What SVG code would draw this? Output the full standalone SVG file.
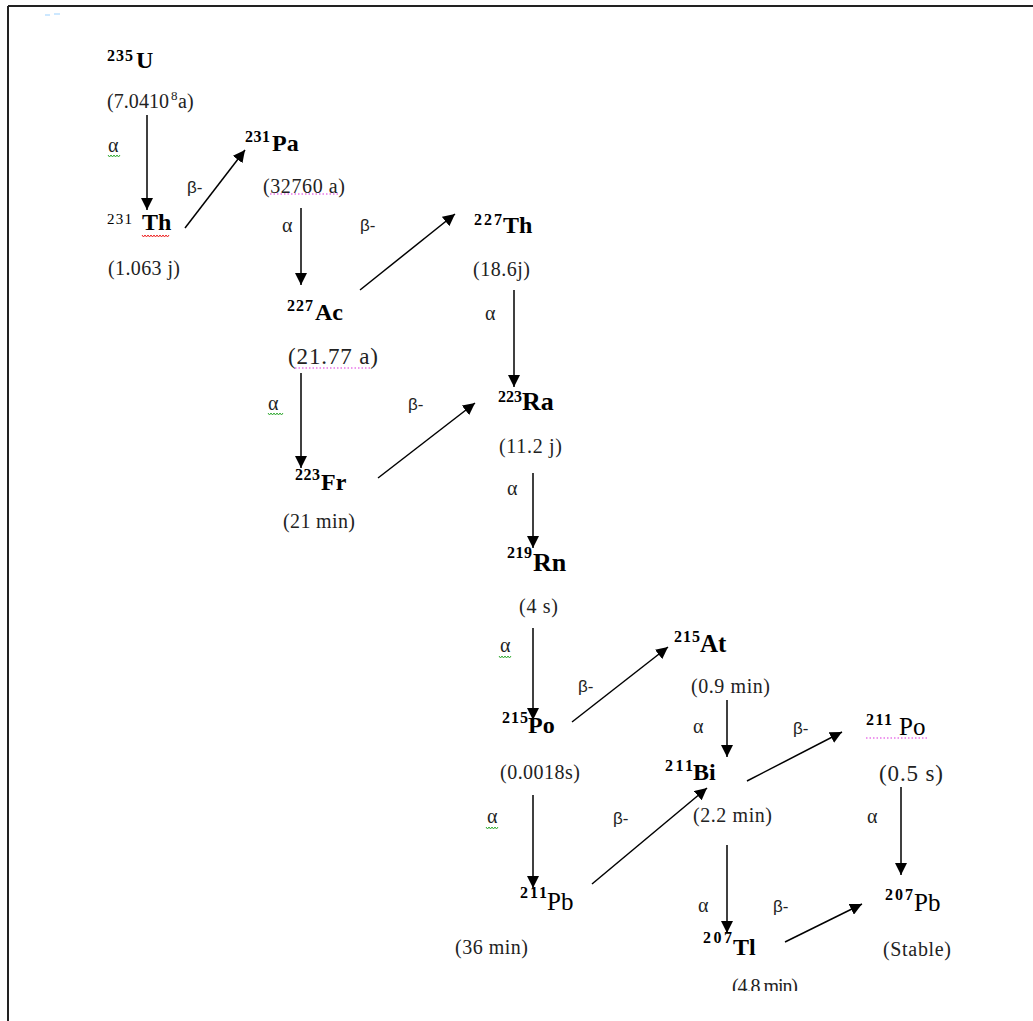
<svg xmlns="http://www.w3.org/2000/svg" width="1033" height="1021" viewBox="0 0 1033 1021">
<style>
.hl{font-family:"Liberation Serif","Times New Roman",serif;font-size:20px;fill:#222}
.big{font-size:23px}
.sup{font-family:"Liberation Serif","Times New Roman",serif;font-size:16px;font-weight:bold;fill:#000}
.supr{font-family:"Liberation Serif","Times New Roman",serif;font-size:15px;fill:#000}
.sym{font-family:"Liberation Serif","Times New Roman",serif;font-size:24px;font-weight:bold;fill:#000}
.symr{font-family:"Liberation Serif","Times New Roman",serif;font-size:25px;fill:#000}
.a{font-family:"Liberation Serif","Times New Roman",serif;font-size:20px;fill:#222}
.b{font-family:"Liberation Sans",Arial,sans-serif;font-size:17px;fill:#222}
.conn line{stroke:#000;stroke-width:1.5;marker-end:url(#ah)}
.wg{fill:none;stroke:#3a3;stroke-width:1}
.wr{fill:none;stroke:#e22;stroke-width:1}
.dp{fill:none;stroke:#d3d;stroke-width:1.2;stroke-dasharray:1.5 2}
</style>
<defs>
<marker id="ah" markerUnits="userSpaceOnUse" markerWidth="12" markerHeight="12" refX="12" refY="6" orient="auto">
<path d="M0,0 L12,6 L0,12 z" fill="#000"/>
</marker>
<clipPath id="clipb"><rect x="0" y="0" width="1033" height="991"/></clipPath>
</defs>
<rect width="1033" height="1021" fill="#fff"/>
<g id="frame">
<line x1="8" y1="6" x2="1033" y2="6" stroke="#222" stroke-width="2"/>
<line x1="8" y1="6" x2="8" y2="1021" stroke="#222" stroke-width="2"/>
<line x1="45" y1="15" x2="50" y2="15" stroke="#bde0ff" stroke-width="1.5"/>
<line x1="54" y1="14" x2="60" y2="14" stroke="#bde0ff" stroke-width="1.5"/>
</g>
<g id="connectors" class="conn">
<line x1="147" y1="115" x2="147" y2="210"/>
<line x1="185" y1="228" x2="245" y2="150"/>
<line x1="301" y1="208" x2="301" y2="285"/>
<line x1="360" y1="290" x2="455" y2="214"/>
<line x1="514" y1="290" x2="514" y2="387"/>
<line x1="301" y1="373" x2="301" y2="468"/>
<line x1="378" y1="478" x2="475" y2="403"/>
<line x1="533" y1="473" x2="533" y2="548"/>
<line x1="533" y1="628" x2="533" y2="720"/>
<line x1="572" y1="722" x2="668" y2="647"/>
<line x1="533" y1="795" x2="533" y2="888"/>
<line x1="727" y1="700" x2="727" y2="757"/>
<line x1="592" y1="884" x2="707" y2="788"/>
<line x1="747" y1="781" x2="842" y2="732"/>
<line x1="727" y1="845" x2="727" y2="933"/>
<line x1="901" y1="787" x2="901" y2="875"/>
<line x1="785" y1="942" x2="862" y2="904"/>
</g>
<g id="labels">
<text class="a" x="108" y="152">α</text>
<path class="wg" d="M108,155 l1.5,2 l1.5,-2 l1.5,2 l1.5,-2 l1.5,2 l1.5,-2 l1.5,2 l1.5,-2"/>
<text class="b" x="187" y="193">β-</text>
<text class="a" x="282" y="232">α</text>
<text class="b" x="360" y="231">β-</text>
<text class="a" x="485" y="320">α</text>
<text class="a" x="268" y="410">α</text>
<path class="wg" d="M268,413 l1.5,2 l1.5,-2 l1.5,2 l1.5,-2 l1.5,2 l1.5,-2 l1.5,2 l1.5,-2 l1.5,2 l1.5,-2"/>
<text class="b" x="408" y="410">β-</text>
<text class="a" x="507" y="495">α</text>
<text class="a" x="500" y="652">α</text>
<path class="wg" d="M499,656 l1.5,2 l1.5,-2 l1.5,2 l1.5,-2 l1.5,2 l1.5,-2 l1.5,2 l1.5,-2"/>
<text class="b" x="578" y="692">β-</text>
<text class="a" x="693" y="733">α</text>
<text class="b" x="793" y="734">β-</text>
<text class="a" x="487" y="823">α</text>
<path class="wg" d="M486,827 l1.5,2 l1.5,-2 l1.5,2 l1.5,-2 l1.5,2 l1.5,-2 l1.5,2 l1.5,-2"/>
<text class="b" x="613" y="824">β-</text>
<text class="a" x="867" y="823">α</text>
<text class="a" x="698" y="912">α</text>
<text class="b" x="773" y="912">β-</text>
</g>
<g id="n-U235">
<text class="sup" x="107" y="61" textLength="26" lengthAdjust="spacing">235</text>
<text class="sym" x="136" y="68">U</text>
<text class="hl" x="107" y="108" textLength="62" lengthAdjust="spacing">(7.0410</text>
<text class="hl" x="171" y="100" style="font-size:13px">8</text>
<text class="hl" x="178" y="108">a)</text>
</g>
<g id="n-Th231">
<text class="supr" x="107" y="224" textLength="25" lengthAdjust="spacing">231</text>
<text class="sym" x="142" y="230">Th</text>
<path class="wr" d="M142,235 l1.5,2 l1.5,-2 l1.5,2 l1.5,-2 l1.5,2 l1.5,-2 l1.5,2 l1.5,-2 l1.5,2 l1.5,-2 l1.5,2 l1.5,-2 l1.5,2 l1.5,-2 l1.5,2 l1.5,-2 l1.5,2 l1.5,-2"/>
<text class="hl" x="108" y="275" textLength="72" lengthAdjust="spacing">(1.063 j)</text>
</g>
<g id="n-Pa231">
<text class="sup" x="245" y="142" textLength="25" lengthAdjust="spacing">231</text>
<text class="sym" x="272" y="151">Pa</text>
<text class="hl" x="263" y="193" textLength="82" lengthAdjust="spacing">(32760 a)</text>
<path class="dp" d="M270,194 H340"/>
</g>
<g id="n-Th227">
<text class="sup" x="474" y="225" textLength="28" lengthAdjust="spacing">227</text>
<text class="sym" x="503" y="233">Th</text>
<text class="hl" x="473" y="276" textLength="57" lengthAdjust="spacing">(18.6j)</text>
</g>
<g id="n-Ac227">
<text class="sup" x="287" y="311" textLength="26" lengthAdjust="spacing">227</text>
<text class="sym" x="315" y="320">Ac</text>
<text class="hl big" x="288" y="364" textLength="90" lengthAdjust="spacing">(21.77 a)</text>
<path class="dp" d="M295,368 H372"/>
</g>
<g id="n-Fr223">
<text class="sup" x="295" y="480" textLength="25" lengthAdjust="spacing">223</text>
<text class="sym" x="321" y="490">Fr</text>
<text class="hl" x="283" y="528" textLength="72" lengthAdjust="spacing">(21 min)</text>
</g>
<g id="n-Ra223">
<text class="sup" x="498" y="402" textLength="24" lengthAdjust="spacing">223</text>
<text class="sym" x="522" y="410" style="font-size:26px">Ra</text>
<text class="hl" x="499" y="453" textLength="63" lengthAdjust="spacing">(11.2 j)</text>
</g>
<g id="n-Rn219">
<text class="sup" x="507" y="558" textLength="25" lengthAdjust="spacing">219</text>
<text class="sym" x="533" y="571" style="font-size:26px">Rn</text>
<text class="hl" x="519" y="613" textLength="39" lengthAdjust="spacing">(4 s)</text>
</g>
<g id="n-At215">
<text class="sup" x="674" y="642" textLength="26" lengthAdjust="spacing">215</text>
<text class="sym" x="700" y="652" style="font-size:25px">At</text>
<text class="hl" x="691" y="693" textLength="79" lengthAdjust="spacing">(0.9 min)</text>
</g>
<g id="n-Po215">
<text class="sup" x="502" y="723" textLength="26" lengthAdjust="spacing">215</text>
<text class="sym" x="528" y="733">Po</text>
<text class="hl" x="500" y="779" textLength="80" lengthAdjust="spacing">(0.0018s)</text>
</g>
<g id="n-Bi211">
<text class="sup" x="665" y="771" textLength="28" lengthAdjust="spacing">211</text>
<text class="sym" x="693" y="780">Bi</text>
<text class="hl" x="693" y="822" textLength="79" lengthAdjust="spacing">(2.2 min)</text>
</g>
<g id="n-Po211">
<text class="sup" x="866" y="725" textLength="26" lengthAdjust="spacing">211</text>
<text class="symr" x="899" y="735">Po</text>
<path class="dp" d="M866,738 H927"/>
<text class="hl big" x="879" y="781" textLength="64" lengthAdjust="spacing">(0.5 s)</text>
</g>
<g id="n-Pb211">
<text class="sup" x="520" y="898" textLength="27" lengthAdjust="spacing">211</text>
<text class="symr" x="547" y="910">Pb</text>
<text class="hl" x="455" y="954" textLength="73" lengthAdjust="spacing">(36 min)</text>
</g>
<g id="n-Tl207">
<text class="sup" x="703" y="943" textLength="29" lengthAdjust="spacing">207</text>
<text class="sym" x="733" y="955">Tl</text>
<text class="hl" x="732" y="993" textLength="66" lengthAdjust="spacing" clip-path="url(#clipb)">(4.8 min)</text>
</g>
<g id="n-Pb207">
<text class="sup" x="885" y="900" textLength="28" lengthAdjust="spacing">207</text>
<text class="symr" x="914" y="911">Pb</text>
<text class="hl" x="883" y="956" textLength="68" lengthAdjust="spacing">(Stable)</text>
</g>
</svg>
